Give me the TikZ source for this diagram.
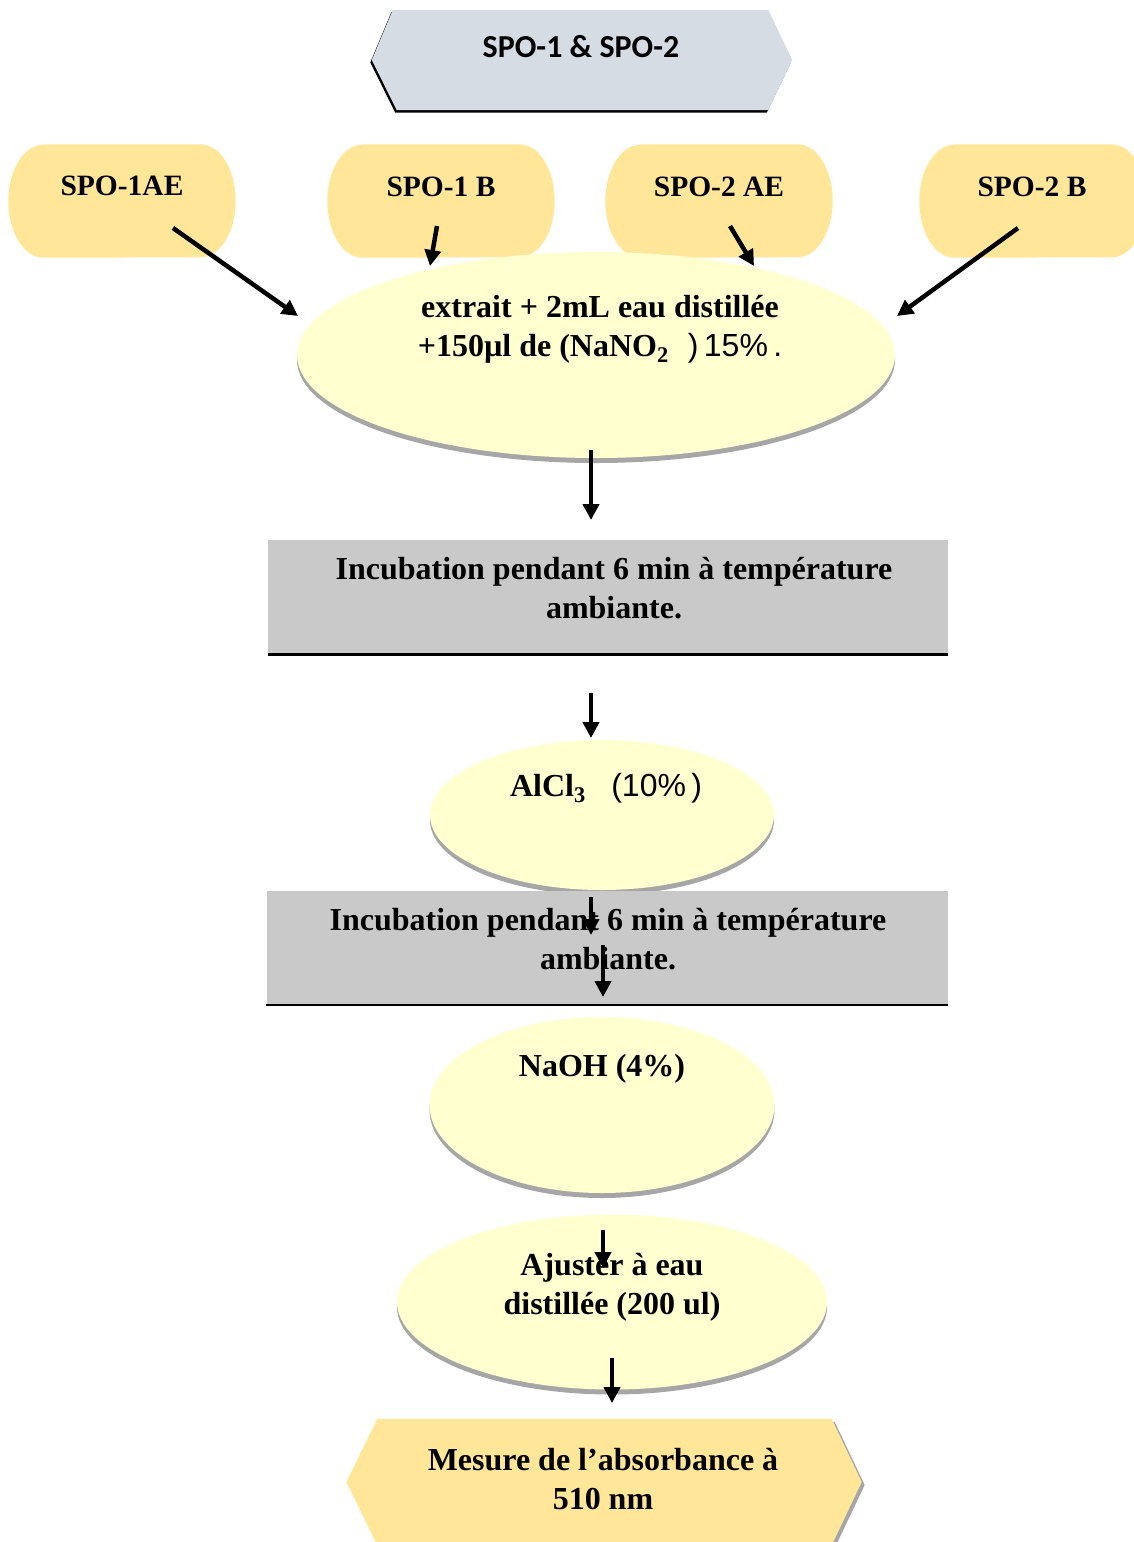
\documentclass[tikz,border=0pt]{standalone}
\usepackage{fontspec}
\setmainfont{Liberation Serif}
\setsansfont{Liberation Sans}
\newfontfamily\calibrifont{Carlito}
\usetikzlibrary{arrows.meta,shapes.geometric,shadows}
\definecolor{hexblue}{HTML}{D6DCE4}
\definecolor{sampleorange}{HTML}{FFE699}
\definecolor{stepyellow}{HTML}{FFFFCF}
\definecolor{incgray}{HTML}{C9C9C9}
\definecolor{shadowgray}{HTML}{A6A6A6}
\begin{document}
\begin{tikzpicture}[x=1pt,y=-1pt,
  txt/.style={inner sep=0pt,align=center,font={\fontsize{32}{39}\selectfont\bfseries}},
  sampletxt/.style={inner sep=0pt,font={\fontsize{29.5}{35}\selectfont\bfseries}},
  sample/.style={rectangle,minimum width=227pt,minimum height=113pt,inner sep=0pt},
  reagent/.style={ellipse,fill=stepyellow,inner sep=0pt,drop shadow={shadow xshift=0pt,shadow yshift=-5pt,fill=shadowgray,opacity=1}},
  incub/.style={rectangle,fill=incgray,minimum width=680pt,minimum height=115pt,inner sep=0pt},
  arr/.style={line width=4.5pt,-{Triangle[length=16pt,width=16pt]}}]
\useasboundingbox (0,0) rectangle (1133,1542);
\node[rectangle,minimum width=420pt,minimum height=100pt,inner sep=0pt] (src) at (582,60) {};
\fill[hexblue,drop shadow={shadow xshift=-1.5pt,shadow yshift=-2.5pt,fill=black,opacity=1}] ([shift={(21,0)}]src.north west) -- ([shift={(-24,0)}]src.north east) -- (src.east) -- ([shift={(-24,0)}]src.south east) -- ([shift={(25,0)}]src.south west) -- (src.west) -- cycle;
\node[txt,font={\calibrifont\fontsize{32}{39}\selectfont\bfseries}] (srctext) at (581,47) {SPO-1 \& SPO-2};
\node[sample] (spo1ae) at (122,201) {};
\node[sample] (spo1b) at (441,201) {};
\node[sample] (spo2ae) at (719,201) {};
\node[sample] (spo2b) at (1033,201) {};
\foreach \s in {spo1ae,spo1b,spo2ae,spo2b}
  \fill[sampleorange] ([shift={(35,0)}]\s.north west) -- ([shift={(-35,0)}]\s.north east) arc[start angle=90,end angle=-90,x radius=35pt,y radius=56.5pt] -- ([shift={(35,0)}]\s.south west) arc[start angle=270,end angle=90,x radius=35pt,y radius=56.5pt] -- cycle;
\node[sampletxt] (spo1aetext) at (122,186) {SPO-1AE};
\node[sampletxt] (spo1btext) at (441,187) {SPO-1 B};
\node[sampletxt] (spo2aetext) at (719,187) {SPO-2 AE};
\node[sampletxt] (spo2btext) at (1032,187) {SPO-2 B};
\node[reagent,minimum width=598pt,minimum height=206pt] (mix) at (596,355) {};
\node[txt] (mixtext) at (600,329) {extrait + 2mL eau distillée\\+150µl de (NaNO\textsubscript{2}\hspace{0.6em}{\sffamily\mdseries)\,15\%\,.}};
\node[incub] (inc1) at (608,597) {};
\draw[line width=2.5pt] (inc1.south west) -- (inc1.south east);
\node[txt] (inc1text) at (614,588) {Incubation pendant 6 min à température\\ambiante.};
\node[reagent,minimum width=344pt,minimum height=150pt] (alc) at (602,815) {};
\node[txt] (alctext) at (606,788) {AlCl\textsubscript{3}\hspace{0.8em}{\sffamily\mdseries(10\%\,)}};
\node[incub,minimum width=681pt,minimum height=114pt] (inc2) at (607,948) {};
\draw[line width=2.5pt] (inc2.south west) -- (inc2.south east);
\node[txt] (inc2text) at (608,939) {Incubation pendant 6 min à température\\ambiante.};
\node[reagent,minimum width=345pt,minimum height=176pt] (naoh) at (602,1105) {};
\node[txt] (naohtext) at (602,1069) {NaOH (4\%)};
\node[reagent,minimum width=430pt,minimum height=175pt] (adj) at (612,1302) {};
\node[txt] (adjtext) at (612,1287) {Ajuster à eau\\distillée (200 ul)};
\node[rectangle,minimum width=515pt,minimum height=126pt,inner sep=0pt] (meas) at (604,1482) {};
\fill[sampleorange,drop shadow={shadow xshift=3pt,shadow yshift=-3pt,fill=shadowgray,opacity=1}] ([shift={(31,0)}]meas.north west) -- ([shift={(-30,0)}]meas.north east) -- (meas.east) -- ([shift={(-30,0)}]meas.south east) -- ([shift={(31,0)}]meas.south west) -- (meas.west) -- cycle;
\node[txt] (meastext) at (603,1479) {Mesure de l’absorbance à\\510 nm};
\draw[arr] ([shift={(51,27)}]spo1ae.center) -- ([shift={(-298,-39)}]mix.center);
\draw[arr] ([shift={(-4,25)}]spo1b.center) -- ([shift={(-166,-89)}]mix.center);
\draw[arr] ([shift={(11,25)}]spo2ae.center) -- ([shift={(158,-89)}]mix.center);
\draw[arr] ([shift={(-15,27)}]spo2b.center) -- ([shift={(301,-39)}]mix.center);
\draw[arr] ([shift={(-5,95)}]mix.center) -- ([shift={(-17,-77)}]inc1.center);
\draw[arr] ([shift={(-17,96)}]inc1.center) -- ([shift={(-11,-77)}]alc.center);
\draw[arr] ([shift={(-11,82)}]alc.center) -- ([shift={(-16,-13)}]inc2.center);
\draw[arr] ([shift={(-4,-3)}]inc2.center) -- ([shift={(1,-108)}]naoh.center);
\draw[arr] ([shift={(1,125)}]naoh.center) -- ([shift={(-9,-34)}]adj.center);
\draw[arr] ([shift={(0,56)}]adj.center) -- ([shift={(8,-79)}]meas.center);
\end{tikzpicture}
\end{document}
